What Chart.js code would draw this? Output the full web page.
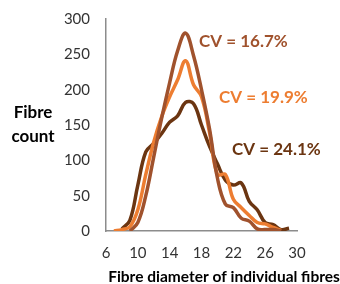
<!DOCTYPE html>
<html>
<head>
<meta charset="utf-8">
<script src="https://cdn.jsdelivr.net/npm/chart.js@4"></script>
<style>
  html, body { margin: 0; padding: 0; background: #fff; }
  #wrap { width: 340px; height: 284px; }
</style>
</head>
<body>
<div id="wrap"><canvas id="fibreChart" width="340" height="284"></canvas></div>
<script>
// Diamètres (micron) et comptages
const diameters = [7, 8, 9, 10, 11, 12, 13, 14, 15, 16, 17, 18, 19, 20, 21, 22, 23, 24, 25, 26, 27, 28, 29];
const count167 = [null, null, 0, 12, 50, 105, 160, 210, 255, 280, 248, 200, 145, 75, 38, 33, 18, 14, 3, 2, 2, 0, null];
const count199 = [0, 2, 6, 30, 80, 126, 162, 190, 214, 241, 207, 190, 140, 80, 80, 45, 33, 22, 12, 10, 5, 1, null];
const count241 = [null, 3, 15, 65, 112, 124, 138, 154, 163, 182, 180, 150, 120, 95, 72, 65, 68, 42, 30, 12, 9, 2, 4];
const xTicks = [6, 10, 14, 18, 22, 26, 30];
const yTicks = [0, 50, 100, 150, 200, 250, 300];

const colBrown = '#A0522D';
const colOrange = '#ED7D31';
const colDark = '#6B3511';
const FONT = 'Lato';

function toPoints(vals) {
    return diameters.map((d, i) => ({ x: d, y: vals[i] })).filter(p => p.y !== null);
}

function serie(label, vals, color) {
    return {
        label: label,
        data: toPoints(vals),
        borderColor: color,
        backgroundColor: color,
        borderWidth: 3.5,
        pointRadius: 0,
        tension: 0.4,
        fill: false,
    };
}

// Textes ajoutés à la main (étiquettes CV et titres d'axes)
const textesPlugin = {
    id: 'textes',
    afterDraw(chart) {
        const c = chart.ctx;
        c.save();
        c.textBaseline = 'middle';
        c.font = 'bold 17px ' + FONT;
        c.fillStyle = colBrown;
        c.fillText('CV = 16.7%', 199, 42);
        c.fillStyle = colOrange;
        c.fillText('CV = 19.9%', 219, 98);
        c.fillStyle = colDark;
        c.fillText('CV = 24.1%', 232, 150);

        c.fillStyle = '#000';
        c.font = 'bold 17px ' + FONT;
        c.textAlign = 'center';
        c.fillText('Fibre', 33, 113);
        c.fillText('count', 33, 137);
        c.font = 'bold 15.5px ' + FONT;
        c.fillText('Fibre diameter of individual fibres', 224, 277);
        c.restore();
    }
};

const ctx = document.getElementById('fibreChart').getContext('2d');
const fibreChart = new Chart(ctx, {
    type: 'line',
    data: {
        datasets: [
            serie('CV = 16.7%', count167, colBrown),
            serie('CV = 19.9%', count199, colOrange),
            serie('CV = 24.1%', count241, colDark),
        ],
    },
    options: {
        responsive: false,
        animation: false,
        layout: { padding: { left: 0, right: 43, top: 15, bottom: 0 } },
        plugins: {
            legend: { display: false },
            tooltip: { enabled: false },
        },
        scales: {
            x: {
                type: 'linear',
                min: 6,
                max: 30,
                afterBuildTicks: (s) => { s.ticks = xTicks.map(v => ({ value: v })); },
                afterFit: (s) => { s.height = 53; },
                grid: { display: false, drawTicks: true, tickLength: 6, tickColor: '#8c8c8c' },
                border: { color: '#8c8c8c', width: 1.5 },
                ticks: { color: '#333333', font: { family: FONT, size: 15 }, padding: 7, maxRotation: 0 },
            },
            y: {
                min: 0,
                max: 300,
                afterBuildTicks: (s) => { s.ticks = yTicks.map(v => ({ value: v })); },
                afterFit: (s) => { s.width = 106; },
                grid: { display: false, drawTicks: true, tickLength: 6, tickColor: '#8c8c8c' },
                border: { color: '#8c8c8c', width: 1.5 },
                ticks: { color: '#333333', font: { family: FONT, size: 15 }, padding: 10 },
            },
        },
    },
    plugins: [textesPlugin],
});
</script>
</body>
</html>
